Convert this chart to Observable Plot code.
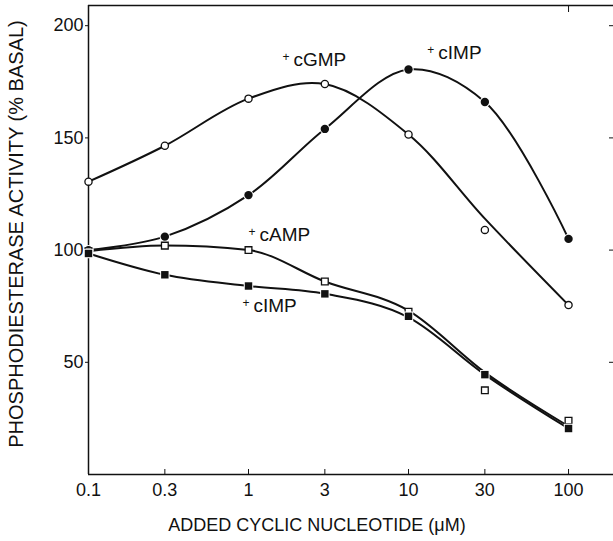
<!DOCTYPE html>
<html>
<head>
<meta charset="utf-8">
<script src="https://cdn.jsdelivr.net/npm/d3@7"></script>
<script src="https://cdn.jsdelivr.net/npm/@observablehq/plot@0.6"></script>
<style>
  html, body { margin: 0; padding: 0; background: #fff; }
  svg { display: block; }
</style>
</head>
<body>
<div id="chart"></div>
<script>
// Concentrations (µM)
const conc = [0.1, 0.3, 1, 3, 10, 30, 100];
// Measured points (% basal)
const cGMPopen   = [130.5, 146.5, 167.5, 174, 151.5, 109, 75.5];
const cIMPfilled = [100, 106, 124.5, 154, 180.5, 166, 105];
const cAMPopen   = [99.5, 102, 100, 86, 72.5, 37.5, 24];
const cIMPsquare = [98.5, 89, 84, 80.5, 70.5, 44.5, 20.5];
// Hand-drawn smooth curves as they pass each concentration
const cGMPcurve   = [130.5, 146.5, 167.5, 174, 151.5, 114, 75.5];
const cIMPcurve   = [100, 106, 124.5, 154, 180.5, 166, 105];
const cAMPcurve   = [99.5, 102, 100, 86, 73, 45.5, 21.5];
const cIMPsqCurve = [98.5, 89, 84, 80.5, 70, 44.5, 20.5];
// Axis ticks
const xTicks = [0.1, 0.3, 1, 3, 10, 30, 100];
const xTickLabels = ["0.1", "0.3", "1", "3", "10", "30", "100"];
const yTicks = [50, 100, 150, 200];
const xDomain = [0.1, 191];
const yDomain = [0, 209];
// Curve labels
const labelText = ["cGMP", "cIMP", "cAMP", "cIMP"];
const labelX = [1.63, 13.1, 1.0, 0.917];
const labelY = [182, 185.3, 104.2, 72.2];
const xTitle = "ADDED CYCLIC NUCLEOTIDE (\u03BCM)";
const yTitle = "PHOSPHODIESTERASE ACTIVITY (% BASAL)";

const rows = (ys) => conc.map((x, i) => ({x, y: ys[i]}));
const labels = labelText.map((t, i) => ({t, x: labelX[i], y: labelY[i]}));
const xFmt = (d) => xTickLabels[xTicks.indexOf(d)] ?? String(d);

const font = "'Liberation Sans', Arial, sans-serif";
const lineOpts = {x: "x", y: "y", stroke: "#111", strokeWidth: 2, curve: "catmull-rom"};
const lineOptsLow = {...lineOpts, curve: "monotone-x"};

const chart = Plot.plot({
  width: 613,
  height: 541,
  marginLeft: 88,
  marginRight: 0,
  marginTop: 5,
  marginBottom: 67,
  style: {fontFamily: font, fontSize: "18px", color: "#111", background: "#fff"},
  x: {type: "log", domain: xDomain},
  y: {domain: yDomain},
  marks: [
    Plot.ruleX([xDomain[0]], {stroke: "#111", strokeWidth: 1.5}),
    Plot.ruleY([yDomain[0]], {stroke: "#111", strokeWidth: 1.5}),
    Plot.ruleY([yDomain[1]], {stroke: "#111", strokeWidth: 1.5}),
    Plot.axisX({ticks: xTicks, tickFormat: xFmt, tickSize: -5, tickPadding: 14, label: null, fontSize: 18}),
    Plot.axisX({anchor: "top", ticks: [100], tickSize: -6, fill: "none", label: null}),
    Plot.axisY({ticks: yTicks, tickSize: 3, tickPadding: 2, label: null, fontSize: 18}),
    Plot.axisY({anchor: "right", ticks: yTicks, tickSize: -5, fill: "none", label: null}),
    Plot.line(rows(cGMPcurve), lineOpts),
    Plot.line(rows(cIMPcurve), lineOpts),
    Plot.line(rows(cAMPcurve), lineOptsLow),
    Plot.line(rows(cIMPsqCurve), lineOptsLow),
    Plot.dot(rows(cGMPopen), {x: "x", y: "y", r: 3.6, fill: "#fff", stroke: "#111", strokeWidth: 1.3}),
    Plot.dot(rows(cIMPfilled), {x: "x", y: "y", r: 4.2, fill: "#111", stroke: "#fff", strokeWidth: 2, paintOrder: "stroke"}),
    Plot.dot(rows(cAMPopen), {x: "x", y: "y", r: 3.8, symbol: "square", fill: "#fff", stroke: "#111", strokeWidth: 1.3}),
    Plot.dot(rows(cIMPsquare), {x: "x", y: "y", r: 4.2, symbol: "square", fill: "#111", stroke: "#fff", strokeWidth: 2, paintOrder: "stroke"}),
    Plot.text(labels, {x: "x", y: "y", text: () => "+", textAnchor: "start", lineAnchor: "bottom", fontSize: 12, dy: -5, fill: "#111"}),
    Plot.text(labels, {x: "x", y: "y", text: "t", textAnchor: "start", lineAnchor: "bottom", fontSize: 19, dx: 11, fill: "#111"}),
    Plot.text([xTitle], {text: d => d, frameAnchor: "bottom", textAnchor: "middle", dx: -34, dy: 56, fontSize: 18, fill: "#111"}),
    Plot.text([yTitle], {text: d => d, frameAnchor: "left", textAnchor: "middle", rotate: -90, dx: -72, dy: -6, fontSize: 20, fill: "#111"})
  ]
});
document.getElementById("chart").appendChild(chart);
</script>
</body>
</html>
